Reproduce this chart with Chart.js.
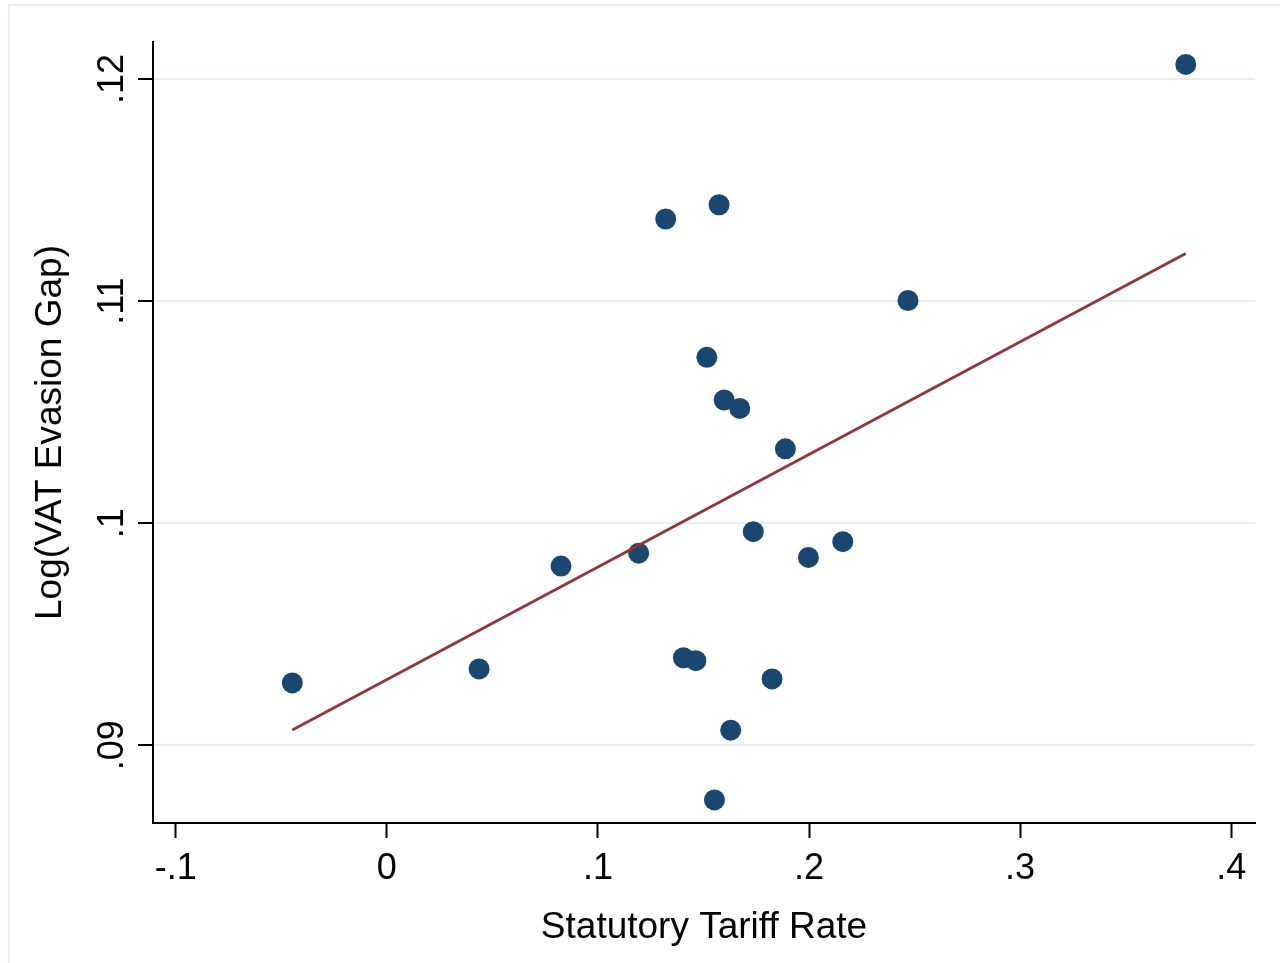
<!DOCTYPE html>
<html>
<head>
<meta charset="utf-8">
<script src="https://cdn.jsdelivr.net/npm/chart.js@4"></script>
<style>
  html, body { margin: 0; padding: 0; background: #fff; }
  #wrap { position: relative; width: 1280px; height: 963px; overflow: hidden; }
  #frame { position: absolute; left: 8px; top: 4px; width: 1300px; height: 1000px;
           border-left: 2px solid #e6eef0; border-top: 2px solid #e6eef0; }
  canvas { position: absolute; left: 0; top: 0; }
</style>
</head>
<body>
<div id="wrap">
  <div id="frame"></div>
  <canvas id="chart" width="1280" height="963"></canvas>
</div>
<script>
// scatter: log VAT evasion gap vs statutory tariff rate
const tariffRate = [-0.0448, 0.0437, 0.0825, 0.1193, 0.1321, 0.1574, 0.1516, 0.1598, 0.1672, 0.1888,
                    0.1736, 0.1997, 0.2160, 0.2469, 0.1405, 0.1464, 0.1825, 0.1629, 0.1552, 0.3785];
const logGap = [0.09281, 0.09344, 0.09807, 0.09865, 0.11370, 0.11434, 0.10747, 0.10555, 0.10517, 0.10335,
                0.09962, 0.09846, 0.09917, 0.11003, 0.09394, 0.09381, 0.09299, 0.09068, 0.08754, 0.12066];

// fitted line endpoints
const fitX = [-0.0448, 0.3785];
const fitY = [0.09069, 0.11215];

const xTicks = [-0.1, 0, 0.1, 0.2, 0.3, 0.4];
const xTickLabels = ['-.1', '0', '.1', '.2', '.3', '.4'];
const yTicks = [0.09, 0.10, 0.11, 0.12];
const yTickLabels = ['.09', '.1', '.11', '.12'];

const FONT = "'Liberation Sans', Arial, sans-serif";
const NAVY = '#1a476f';
const MAROON = '#90353b';
const GRID = '#e8eff1';

// y tick labels are rotated like the Stata original
const yLabelPlugin = {
  id: 'yLabels',
  afterDraw(chart) {
    const s = chart.scales.y;
    const ctx = chart.ctx;
    ctx.save();
    ctx.font = `36px ${FONT}`;
    ctx.fillStyle = '#000';
    ctx.textAlign = 'center';
    ctx.textBaseline = 'alphabetic';
    yTicks.forEach((v, i) => {
      const py = s.getPixelForValue(v);
      ctx.save();
      ctx.translate(s.right - 30, py);
      ctx.rotate(-Math.PI / 2);
      ctx.fillText(yTickLabels[i], 0, 0);
      ctx.restore();
    });
    ctx.restore();
  }
};

new Chart(document.getElementById('chart'), {
  type: 'scatter',
  data: {
    datasets: [
      {
        label: 'Fitted values',
        data: fitX.map((x, i) => ({ x, y: fitY[i] })),
        showLine: true,
        borderColor: MAROON,
        borderWidth: 2.8,
        pointRadius: 0,
        order: 0,
      },
      {
        label: 'Log(VAT Evasion Gap)',
        data: tariffRate.map((x, i) => ({ x, y: logGap[i] })),
        backgroundColor: NAVY,
        borderColor: NAVY,
        borderWidth: 0,
        pointRadius: 10.5,
        order: 1,
      },
    ]
  },
  options: {
    responsive: false,
    animation: false,
    devicePixelRatio: 1,
    layout: { padding: { left: 29, top: 42, right: 25, bottom: 13 } },
    plugins: { legend: { display: false }, tooltip: { enabled: false } },
    scales: {
      x: {
        type: 'linear',
        min: -0.1108,
        max: 0.4113,
        afterBuildTicks: (s) => { s.ticks = xTicks.map(v => ({ value: v })); },
        afterFit: (s) => { s.height = 127; },
        ticks: {
          font: { family: FONT, size: 36 },
          color: '#000',
          padding: 9,
          maxRotation: 0,
          callback: (v, i) => xTickLabels[i],
        },
        grid: { drawOnChartArea: false, drawTicks: true, tickLength: 15, tickColor: '#000', tickWidth: 2 },
        border: { display: true, color: '#000', width: 2 },
        title: {
          display: true,
          text: 'Statutory Tariff Rate',
          font: { family: FONT, size: 37 },
          color: '#000',
          padding: 0,
        },
      },
      y: {
        type: 'linear',
        min: 0.0865,
        max: 0.12167,
        afterBuildTicks: (s) => { s.ticks = yTicks.map(v => ({ value: v })); },
        afterFit: (s) => { s.width = 124; },
        ticks: { display: false },
        grid: { color: GRID, lineWidth: 2, drawTicks: true, tickLength: 15, tickColor: '#000', tickWidth: 2 },
        border: { display: true, color: '#000', width: 2 },
        title: {
          display: true,
          text: 'Log(VAT Evasion Gap)',
          font: { family: FONT, size: 37 },
          color: '#000',
          padding: 0,
        },
      },
    },
  },
  plugins: [yLabelPlugin],
});
</script>
</body>
</html>
